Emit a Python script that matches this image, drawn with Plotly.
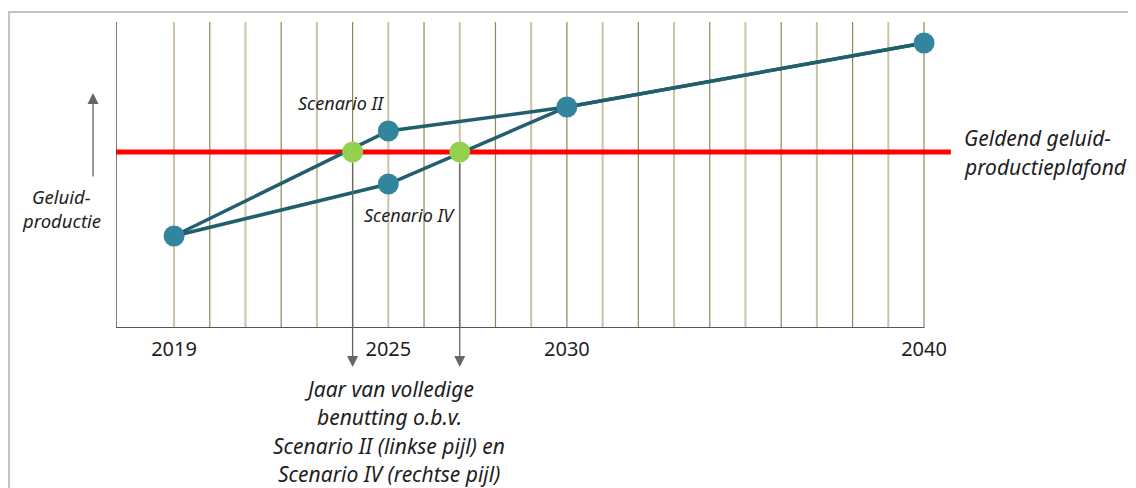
import plotly.graph_objects as go

# ---- data (y = relative noise production) ----
years_s2 = [2019, 2025, 2030, 2040]
values_s2 = [92, 197, 221, 285]
years_s4 = [2019, 2025, 2030, 2040]
values_s4 = [92, 144, 221, 285]
plafond = 176
plafond_x = [2017.375, 2040.75]
full_use_years = [2024, 2027]
grid_years = list(range(2019, 2041))
tick_years = [2019, 2025, 2030, 2040]
tick_labels = ["2019", "2025", "2030", "2040"]

OFF = 8  # page body margin offset of the plot div
W, H = 1136 - OFF, 488 - OFF
ML, MR, MT, MB = 116 - OFF, 0, 0, 160
PW, PH = W - ML - MR, H - MT - MB
X0 = 2017.375
PX_PER_YEAR = 750 / 21
X1 = X0 + PW / PX_PER_YEAR
FONT = "Noto Sans"
TXT = "#1e1e1e"


def P(px, py):
    """screen pixel -> paper coordinates (layout helper for text placement)"""
    return ((px - OFF) - ML) / PW, (H - MB - (py - OFF)) / PH


fig = go.Figure()

# ceiling line
fig.add_trace(go.Scatter(x=plafond_x, y=[plafond] * len(plafond_x), mode="lines",
                         line=dict(color="#ff0000", width=5), hoverinfo="skip",
                         cliponaxis=False))
# scenario lines
for xs, ys in [(years_s2, values_s2), (years_s4, values_s4)]:
    fig.add_trace(go.Scatter(x=xs, y=ys, mode="lines",
                             line=dict(color="#215f6e", width=3.5), hoverinfo="skip",
                             cliponaxis=False))
# scenario markers
mx, my = [], []
for xs, ys in [(years_s2, values_s2), (years_s4, values_s4)]:
    for a, b in zip(xs, ys):
        if (a, b) not in zip(mx, my):
            mx.append(a)
            my.append(b)
fig.add_trace(go.Scatter(x=mx, y=my, mode="markers",
                         marker=dict(size=21, color="#31859c", line=dict(width=0)),
                         hoverinfo="skip", cliponaxis=False))
# full-utilisation points
fig.add_trace(go.Scatter(x=full_use_years, y=[plafond] * len(full_use_years), mode="markers",
                         marker=dict(size=21, color="#92d050", line=dict(width=0)),
                         hoverinfo="skip", cliponaxis=False))

shapes = []
# frame
fx0, fy1 = P(9, 12)
fx1, fy0 = P(1145, 495)
shapes.append(dict(type="rect", xref="paper", yref="paper", x0=fx0, x1=fx1, y0=fy0, y1=fy1,
                   line=dict(color="#c4c4c4", width=2), layer="below"))
# year grid lines
grid_top = 328 - 22
for i, yr in enumerate(grid_years):
    light = (i % 2 == 0)
    shapes.append(dict(type="line", xref="x", yref="y", x0=yr, x1=yr, y0=0, y1=grid_top,
                       line=dict(color="#cbc3a2" if light else "#8e8953",
                                 width=2 if light else 1.2), layer="below"))
# axes
shapes.append(dict(type="line", xref="x", yref="y", x0=X0, x1=X0, y0=0, y1=grid_top,
                   line=dict(color="#505050", width=1.5), layer="below"))
shapes.append(dict(type="line", xref="x", yref="y", x0=X0, x1=grid_years[-1], y0=0, y1=0,
                   line=dict(color="#555555", width=1.8), layer="below"))

annotations = []
# down arrows at full-utilisation years (from the green point to below the axis)
_, tip_y = P(0, 367)
for yr in full_use_years:
    annotations.append(dict(x=yr, y=tip_y, xref="x", yref="paper", ax=0, ay=-215,
                            axref="pixel", ayref="pixel", showarrow=True, text="",
                            arrowhead=2, arrowsize=1.7, arrowwidth=1.3, arrowcolor="#666666",
                            startstandoff=10))
# up arrow (y-axis meaning)
ux, uy = P(93, 93)
annotations.append(dict(x=ux, y=uy, xref="paper", yref="paper", ax=0, ay=85,
                        showarrow=True, text="", arrowhead=2, arrowsize=1.7,
                        arrowwidth=1.3, arrowcolor="#666666"))


def label(text, px, py, size, anchor="center", italic=True):
    x, y = P(px, py)
    annotations.append(dict(x=x, y=y, xref="paper", yref="paper", text=text, showarrow=False,
                            xanchor=anchor, yanchor="middle", borderpad=0,
                            font=dict(family=FONT, size=size, color=TXT,
                                      style="italic" if italic else "normal")))


label("Scenario II", 341, 103, 18)
label("Scenario IV", 409, 215, 18)
label("Geldend geluid-", 963, 138, 21, anchor="left")
label("productieplafond", 963, 167, 21, anchor="left")
label("Geluid-", 61, 196, 18.5)
label("productie", 61, 220, 18.5)
for i, line in enumerate(["Jaar van volledige", "benutting o.b.v.",
                          "Scenario II (linkse pijl) en", "Scenario IV (rechtse pijl)"]):
    label(line, 389, 389 + i * 28.4, 21)

fig.update_layout(
    width=W, height=H, margin=dict(l=ML, r=MR, t=MT, b=MB),
    paper_bgcolor="white", plot_bgcolor="rgba(0,0,0,0)", showlegend=False,
    shapes=shapes, annotations=annotations,
    xaxis=dict(range=[X0, X1], showgrid=False, zeroline=False, showline=False,
               tickvals=tick_years, ticktext=tick_labels, ticks="", ticklabelstandoff=7,
               tickfont=dict(family=FONT, size=20, color=TXT), fixedrange=True),
    yaxis=dict(range=[0, PH], visible=False, fixedrange=True),
)

fig.write_html("out.html")
